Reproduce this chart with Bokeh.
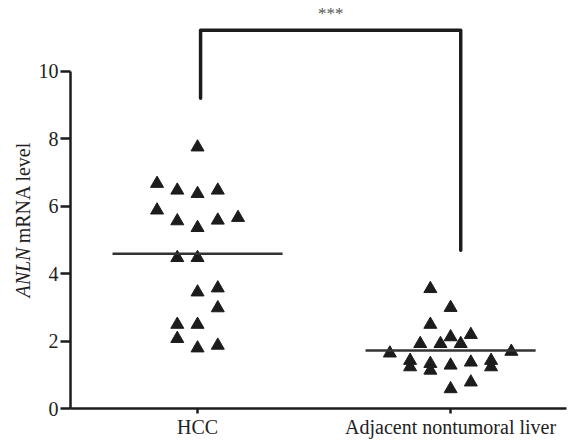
import math
from bokeh.plotting import figure
from bokeh.layouts import row
from bokeh.models import Range1d, FixedTicker, Label, ColumnDataSource
from bokeh.core.properties import value
from bokeh.embed import file_html
from bokeh.resources import INLINE

# ---- data ----
categories = ["HCC", "Adjacent nontumoral liver"]
cat_pos = [1, 2]

hcc_values = [7.75, 6.67, 6.47, 6.37, 6.47, 5.88, 5.56, 5.36, 5.58, 5.66,
              4.47, 4.47, 3.45, 3.57, 2.98, 2.49, 2.49, 2.07, 1.79, 1.87]
hcc_jitter = [0, -0.16, -0.08, 0, 0.08, -0.16, -0.08, 0, 0.08, 0.16,
              -0.08, 0, 0, 0.08, 0.08, -0.08, 0, -0.08, 0, 0.08]

adj_values = [3.55, 2.99, 2.49, 2.19, 2.12, 1.92, 1.92, 1.92, 1.64, 1.69,
              1.42, 1.23, 1.33, 1.13, 1.28, 1.37, 1.42, 1.23, 0.78, 0.58]
adj_jitter = [-0.08, 0, -0.08, 0.08, 0, -0.12, -0.04, 0.04, -0.24, 0.24,
              -0.16, -0.16, -0.08, -0.08, 0, 0.08, 0.16, 0.16, 0.08, 0]

group_means = [4.59, 1.72]
y_ticks = [0, 2, 4, 6, 8, 10]
signif_text = "***"
ylabel_gene = "ANLN"
ylabel_rest = "mRNA level"

# ---- figure ----
FONT = "Liberation Serif"
INK = "#1c1c1c"
LABEL_W = 35

y_range = Range1d(0, 12.1)

p = figure(width=571 - LABEL_W, height=446, output_backend="svg", toolbar_location=None,
           x_range=Range1d(0.498, 2.458), y_range=y_range,
           min_border_left=70 - LABEL_W, min_border_right=5, min_border_top=0,
           min_border_bottom=38)
p.outline_line_color = None
p.xgrid.visible = False
p.ygrid.visible = False
p.background_fill_color = "white"
p.border_fill_color = "white"

# y axis
p.yaxis.ticker = FixedTicker(ticks=y_ticks)
p.yaxis.bounds = (0, 10)
p.yaxis.axis_line_width = 2.5
p.yaxis.axis_line_color = INK
p.yaxis.major_tick_line_width = 2.5
p.yaxis.major_tick_line_color = INK
p.yaxis.major_tick_out = 10
p.yaxis.major_tick_in = 0
p.yaxis.minor_tick_line_color = None
p.yaxis.major_label_text_font = FONT
p.yaxis.major_label_text_font_size = "20px"
p.yaxis.major_label_text_color = "#222222"
p.yaxis.major_label_standoff = 2

# x axis
p.xaxis.ticker = FixedTicker(ticks=cat_pos)
p.xaxis.major_label_overrides = {pos: name for pos, name in zip(cat_pos, categories)}
p.xaxis.axis_line_width = 2.5
p.xaxis.axis_line_color = INK
p.xaxis.major_tick_line_width = 2.5
p.xaxis.major_tick_line_color = INK
p.xaxis.major_tick_out = 5
p.xaxis.major_tick_in = 0
p.xaxis.minor_tick_line_color = None
p.xaxis.major_label_text_font = FONT
p.xaxis.major_label_text_font_size = "20px"
p.xaxis.major_label_text_color = "#222222"
p.xaxis.major_label_standoff = 2

# points
hcc_src = ColumnDataSource(dict(x=[cat_pos[0] + j for j in hcc_jitter], y=hcc_values))
adj_src = ColumnDataSource(dict(x=[cat_pos[1] + j for j in adj_jitter], y=adj_values))
for src in (hcc_src, adj_src):
    p.scatter("x", "y", source=src, marker="triangle", size=13,
              fill_color=INK, line_color=INK, line_width=1)

# mean lines
half = 0.336
for pos, m in zip(cat_pos, group_means):
    p.line([pos - half, pos + half], [m, m], line_color="#333333", line_width=2.5)

# significance bracket
bx1 = cat_pos[0] + 0.012
bx2 = cat_pos[1] + 0.04
p.line([bx1, bx1, bx2, bx2], [9.2, 11.22, 11.22, 4.69],
       line_color=INK, line_width=3.5, line_join="round", line_cap="round")
p.add_layout(Label(x=(bx1 + bx2) / 2, y=11.7, text=signif_text,
                   text_font=FONT, text_font_size="17px", text_color="#555555",
                   text_align="center", text_baseline="middle"))

# narrow side figure carrying the y-axis title (italic gene name + plain text)
lab = figure(width=LABEL_W, height=446, output_backend="svg", toolbar_location=None,
             x_range=Range1d(0, LABEL_W), y_range=y_range,
             x_axis_location=None, y_axis_location=None,
             min_border_left=0, min_border_right=0, min_border_top=0,
             min_border_bottom=38)
lab.outline_line_color = None
lab.xgrid.visible = False
lab.ygrid.visible = False
lab.border_fill_color = "white"
lab.text(x=[22], y=[3.29], text=[ylabel_gene], angle=math.pi / 2,
         text_font=value(FONT), text_font_style=value("italic"),
         text_font_size=value("20px"), text_color="#222222",
         text_align="left", text_baseline="middle")
lab.text(x=[22], y=[4.9], text=[ylabel_rest], angle=math.pi / 2,
         text_font=value(FONT), text_font_size=value("20px"), text_color="#222222",
         text_align="left", text_baseline="middle")

layout = row(lab, p, spacing=0)
open("out.html", "w").write(file_html(layout, INLINE))
